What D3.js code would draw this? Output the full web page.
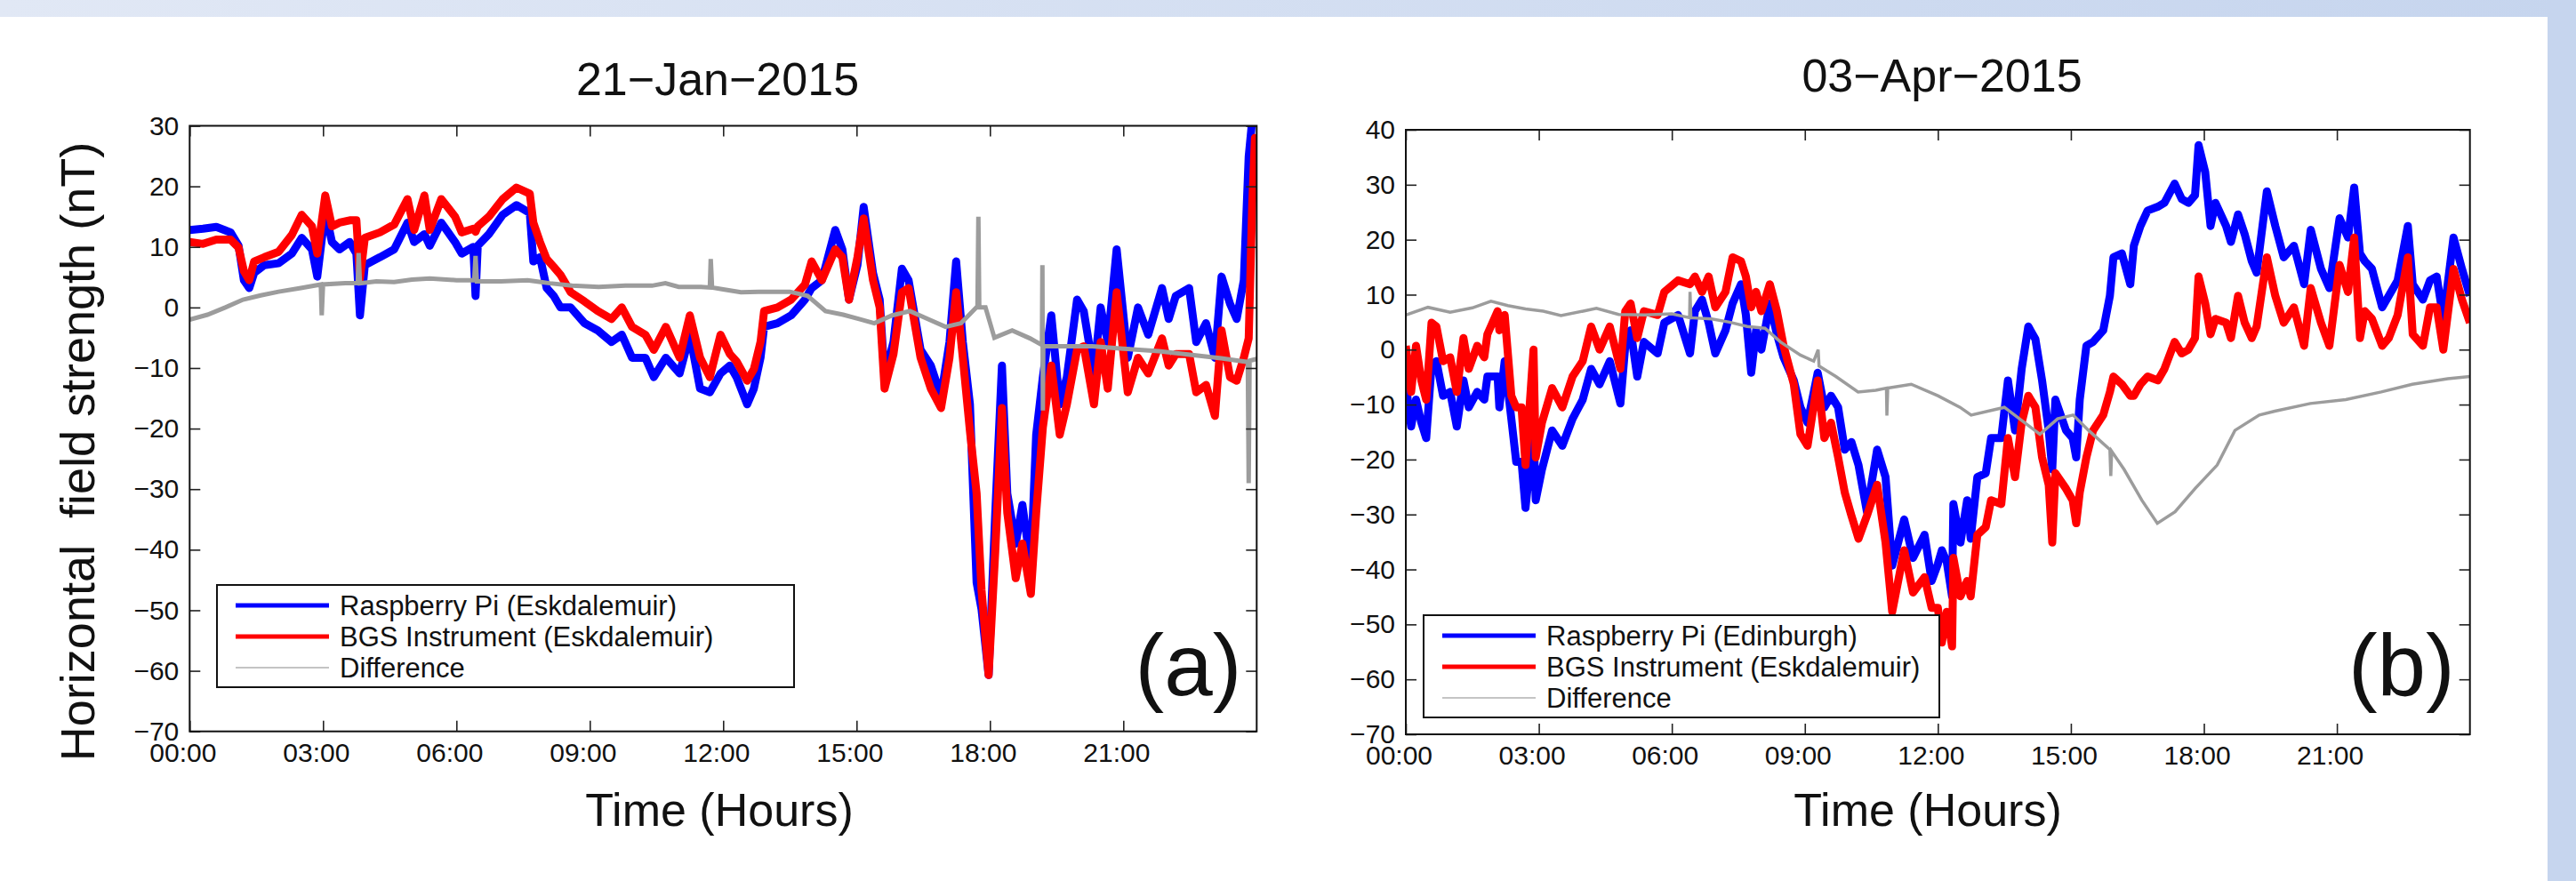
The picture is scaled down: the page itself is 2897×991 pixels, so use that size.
<!DOCTYPE html>
<html>
<head>
<meta charset="utf-8">
<script src="https://cdn.jsdelivr.net/npm/d3@7"></script>
<style>
  body { margin: 0; background: #fff; }
  svg text { font-family: "Liberation Sans", Arial, Helvetica, sans-serif; fill: #111; }
</style>
</head>
<body>
<div class="figure"></div>
<script>
// panel (a) 21-Jan-2015, hours of day
const hoursA = [0, 0.3, 0.6, 0.92, 1.1, 1.22, 1.34, 1.45, 1.68, 2.0, 2.3, 2.52, 2.75, 2.87, 3.05, 3.2, 3.37, 3.6, 3.75, 3.83,
  3.94, 4.28, 4.6, 4.9, 5.05, 5.28, 5.4, 5.66, 5.97, 6.12, 6.38, 6.43, 6.48, 6.73, 7.04, 7.35, 7.65, 7.73, 7.88, 8.03,
  8.19, 8.34, 8.57, 8.88, 9.18, 9.49, 9.72, 9.95, 10.25, 10.44, 10.71, 11.02, 11.25, 11.48, 11.7, 11.94, 12.15, 12.3, 12.54, 12.69,
  12.84, 12.92, 13.22, 13.53, 13.84, 13.99, 14.22, 14.52, 14.68, 14.83, 15.02, 15.16, 15.37, 15.52, 15.63, 15.83, 16.02, 16.17, 16.44, 16.67,
  16.9, 17.09, 17.24, 17.39, 17.55, 17.7, 17.81, 17.97, 18.12, 18.27, 18.39, 18.58, 18.73, 18.92, 19.04, 19.19, 19.38, 19.57, 19.73, 19.96,
  20.11, 20.34, 20.49, 20.65, 20.85, 21.1, 21.33, 21.56, 21.87, 22.02, 22.18, 22.48, 22.64, 22.86, 23.06, 23.21, 23.4, 23.55, 23.71, 23.82,
  23.9, 23.96, 24];
const rpiA = [12.8, 13, 13.3, 12.4, 10.2, 4.5, 3.2, 5.7, 7, 7.3, 8.9, 11.5, 9.6, 5.1, 16, 10.8, 9.6, 10.8, 8.9, -1.3,
  7, 8.3, 9.6, 14, 10.8, 12.1, 10.2, 14, 10.8, 8.9, 10, 1.9, 10.2, 12.1, 15.3, 16.9, 15.6, 7.6, 8.3, 3.2,
  1.9, 0, 0, -2.6, -3.8, -5.7, -4.5, -8.3, -8.3, -11.5, -8.3, -10.9, -4.5, -13.4, -14, -10.9, -9.6, -11.5, -16, -13.4,
  -8.3, -3.2, -2.6, -1.3, 1.3, 3.2, 4.5, 12.8, 9.6, 1.3, 7, 16.6, 5.7, 1.3, -11.5, -5.7, 6.4, 4.5, -7, -9.6,
  -14.7, -5.7, 7.6, -5.7, -16, -45.4, -49.8, -60.7, -33.9, -9.6, -30.7, -39, -32.6, -42.8, -21, -11.5, -1.3, -16, -11.5, 1.3,
  -0.6, -10.9, 0, -5.7, 9.6, -8.3, 0, -4.5, 3.2, -1.9, 1.9, 3.2, -5.7, -2.6, -8.3, 5.1, 0.6, -1.9, 4.5, 24.9,
  31, 32, 31];
const bgsA = [10.8, 10.5, 11.2, 11.2, 9.9, 6, 4.5, 7.6, 8.3, 9.2, 12, 15.3, 13.4, 8.9, 18.5, 13.4, 14, 14.4, 14.4, 4.8,
  11.5, 12.4, 13.7, 17.9, 12.8, 18.5, 12.8, 17.9, 15, 12.4, 13, 12.5, 13.4, 15, 17.9, 19.8, 18.8, 14, 10.8, 8,
  6.7, 5.4, 2.5, 1, -0.6, -1.9, 0, -3.2, -4.5, -7, -3.2, -8.3, -1.3, -8.3, -11.5, -4.5, -7.7, -8.9, -12.1, -10.2,
  -5.7, -0.6, 0, 1.3, 3.8, 7.6, 4.5, 9.6, 8.3, 1.3, 8.3, 14.7, 4.5, 0, -13.4, -7.7, 2.5, 3.2, -8.3, -13.4,
  -16.6, -8.3, 2.5, -8.3, -20.4, -30.7, -46.6, -60.7, -40.2, -16.6, -33.9, -44.7, -39, -47.3, -33.9, -19.8, -9.6, -21, -16, -7,
  -6.4, -16, -5.7, -13.4, 2.5, -14, -8.3, -10.9, -5.1, -9.6, -7.7, -7.7, -14, -12.8, -17.9, -3.8, -11.5, -12.1, -8.3, -5.1,
  17.2, 28, 24];
const diffHoursA = [0, 0.4, 0.8, 1.2, 1.6, 2.0, 2.5, 2.95, 2.97, 3.0, 3.5, 3.78, 3.8, 3.83, 4.2, 4.6, 5.0, 5.4, 6.0, 6.4,
  6.43, 6.46, 7.0, 7.6, 7.9, 8.1, 8.6, 9.2, 9.8, 10.4, 10.7, 11.0, 11.5, 11.7, 11.72, 11.75, 12, 12.4, 12.8, 13.5,
  13.9, 14.3, 14.7, 15.06, 15.4, 15.8, 16.2, 16.6, 17.0, 17.35, 17.72, 17.74, 17.76, 17.9, 18.1, 18.5, 18.9, 19.17, 19.18, 19.19,
  19.2, 19.6, 20.3, 21.0, 21.8, 22.5, 23.2, 23.8, 23.82, 23.84, 24];
const diffA = [-2, -1.2, 0, 1.3, 2, 2.6, 3.2, 3.8, -1.3, 3.8, 4, 4, 9, 4, 4.3, 4.2, 4.6, 4.8, 4.5, 4.5,
  8.5, 4.3, 4.3, 4.5, 4.2, 4, 3.6, 3.4, 3.6, 3.6, 4, 3.4, 3.4, 3.3, 8, 3.3, 3, 2.5, 2.6, 2.6,
  1.9, -0.6, -1.2, -1.9, -2.6, -1.3, -0.6, -1.9, -3.2, -2.6, 0.2, 15, 0, 0, -5, -3.8, -5.1, -6.2, 7, -17,
  -6.4, -6.4, -6.4, -6.8, -7.2, -7.8, -8.4, -9, -29, -8.8, -8.5];

// panel (b) 03-Apr-2015
const hoursB = [0, 0.12, 0.23, 0.35, 0.46, 0.58, 0.69, 0.84, 1.0, 1.15, 1.3, 1.42, 1.61, 1.77, 1.84, 2.07, 2.11, 2.23, 2.38, 2.49,
  2.61, 2.7, 2.88, 2.93, 3.07, 3.3, 3.53, 3.76, 3.99, 4.18, 4.37, 4.6, 4.84, 4.95, 5.07, 5.22, 5.37, 5.68, 5.83, 6.14,
  6.41, 6.52, 6.68, 6.83, 6.98, 7.21, 7.37, 7.56, 7.67, 7.79, 7.9, 8.02, 8.21, 8.37, 8.52, 8.75, 8.9, 9.06, 9.29, 9.44,
  9.59, 9.75, 9.9, 10.05, 10.21, 10.4, 10.63, 10.82, 10.97, 11.24, 11.44, 11.7, 11.86, 12.0, 12.09, 12.2, 12.32, 12.35, 12.51, 12.66,
  12.74, 12.89, 13.08, 13.2, 13.43, 13.58, 13.74, 13.89, 14.04, 14.2, 14.35, 14.5, 14.58, 14.65, 14.89, 15.04, 15.12, 15.2, 15.35, 15.5,
  15.73, 15.88, 15.96, 16.15, 16.34, 16.42, 16.57, 16.73, 16.96, 17.11, 17.34, 17.5, 17.65, 17.8, 17.88, 18.03, 18.15, 18.26, 18.5, 18.61,
  18.77, 18.92, 19.08, 19.19, 19.42, 19.61, 19.8, 20.03, 20.26, 20.41, 20.64, 20.83, 21.06, 21.25, 21.39, 21.52, 21.63, 21.79, 22.02, 22.17,
  22.37, 22.6, 22.71, 22.94, 23.1, 23.25, 23.4, 23.63, 23.82, 24];
const rpiB = [-6.3, -14, -9.1, -13.3, -16.1, -2.8, -2.1, -8.4, -7.7, -14, -5.6, -10.5, -7.7, -9.1, -4.9, -4.9, -10.5, -2.1, -12.6, -20.4,
  -20.4, -28.8, -14.7, -27.4, -21.8, -14.7, -17.5, -12.6, -9.1, -3.5, -6.3, -2.1, -9.8, 0.7, 3.5, -4.9, 1.4, -0.7, 4.9, 6.3,
  -0.7, 7, 9.1, 4.9, -0.7, 3.5, 8.4, 11.9, 6.3, -4.2, 3.5, 0, 8.4, 2.8, -1.4, -5.6, -10.5, -13.3, -4.2, -10.5,
  -8.4, -10.5, -18.2, -16.8, -21, -29.5, -18.2, -23.2, -39.3, -30.9, -37.9, -33.7, -42.1, -39, -36.5, -38.6, -44.9, -28.1, -35.1, -27.4,
  -34.4, -23.2, -22.5, -16.1, -16.1, -5.6, -14.7, -3.5, 4.2, 1.9, -5.6, -14.7, -21.8, -9.1, -14.7, -16.1, -19.6, -9.1, 0.7, 1.4,
  3.5, 9.8, 16.8, 17.5, 11.9, 18.9, 22.5, 25.3, 26, 26.7, 30.2, 27.4, 26.7, 28.1, 37.2, 32.3, 22.5, 26.7, 22.5, 19.6,
  24.6, 21, 16.1, 14, 28.8, 22.5, 16.8, 18.9, 11.9, 21.8, 14.7, 11.2, 23.9, 20.4, 29.5, 17.5, 16.1, 14.7, 7.7, 9.8,
  12.6, 22.5, 11.9, 9.1, 12.6, 13.3, 5.6, 20.4, 14.7, 9.8];
const bgsB = [0.7, -7.7, 0.7, -5.6, -9.1, 4.9, 4.2, -2.1, -1.4, -7.7, 2.1, -3.5, 0.7, -1.4, 2.8, 7, 3.5, 6.3, -8.4, -10.5,
  -10.5, -21, 0, -19.6, -13.3, -7, -10.5, -4.9, -2.1, 4.2, 0, 4.2, -3.5, 7, 8.4, 2.1, 7, 6.3, 10.5, 12.6,
  11.9, 13.3, 10.5, 13.3, 7.7, 10.5, 16.8, 16.1, 13.3, 7.7, 10.5, 7, 11.9, 7, 0.7, -6.3, -15.4, -17.5, -5.6, -16.1,
  -13.3, -19.6, -26, -30.2, -34.4, -30.2, -24.6, -35.1, -47.7, -36.5, -44.2, -41.4, -47, -47, -53.3, -47.7, -54, -37.9, -44.9, -42.1,
  -44.9, -33.7, -32.3, -27.4, -28.1, -16.1, -23.2, -13.3, -8.4, -10.5, -19.6, -24.6, -35.1, -22.5, -25.3, -27.4, -31.6, -26, -19.6, -14.7,
  -11.9, -7.7, -4.9, -6.3, -8.4, -8.4, -6.3, -4.9, -5.6, -3.5, 1.4, -0.7, 0, 2.1, 13.3, 8.4, 2.8, 5.6, 4.9, 2.1,
  9.8, 4.9, 2.1, 4.2, 16.8, 9.8, 4.9, 7.7, 0.7, 11.2, 4.9, 0.7, 15.4, 10.5, 20.4, 2.1, 7, 5.6, 0.7, 2.1,
  6.3, 16.8, 2.8, 0.7, 7.7, 7.7, 0, 14.7, 9.1, 4.9];
const diffHoursB = [0, 0.5, 1.0, 1.5, 1.92, 2.3, 2.7, 3.1, 3.5, 4.0, 4.3, 4.8, 5.4, 6.0, 6.4, 6.41, 6.43, 6.9, 7.3, 7.7,
  8.1, 8.45, 8.9, 9.2, 9.3, 9.32, 9.7, 10.2, 10.6, 10.84, 10.85, 10.87, 11.4, 12.0, 12.5, 12.75, 13.5, 14.3, 14.7, 15.05,
  15.4, 15.88, 15.9, 15.92, 16.2, 16.6, 16.95, 17.35, 17.8, 18.3, 18.7, 19.25, 19.6, 20.4, 21.2, 22.0, 22.7, 23.5, 24];
const diffB = [6.3, 7.7, 6.8, 7.6, 8.8, 8, 7.4, 7, 6.2, 7, 7.5, 6.4, 6.3, 6.5, 5.8, 10.5, 5.8, 5.6, 5, 4.2,
  3.9, 1.4, -1, -2.1, 0, -3, -4.9, -7.7, -7.4, -7, -12, -7, -6.3, -8.4, -10.5, -11.9, -10.5, -15.4, -12.6, -11.9,
  -14.7, -18.2, -23, -18.5, -21.8, -27.4, -31.6, -29.5, -25.3, -21, -14.7, -11.9, -11.2, -9.8, -9.1, -7.7, -6.3, -5.3, -4.9];

const hourTicks = [0, 3, 6, 9, 12, 15, 18, 21];
const yTicksA = [30, 20, 10, 0, -10, -20, -30, -40, -50, -60, -70];
const yTicksB = [40, 30, 20, 10, 0, -10, -20, -30, -40, -50, -60, -70];
const legendA = ['Raspberry Pi (Eskdalemuir)', 'BGS Instrument (Eskdalemuir)', 'Difference'];
const legendB = ['Raspberry Pi (Edinburgh)', 'BGS Instrument (Eskdalemuir)', 'Difference'];

const W = 2897, H = 991;
const blue = '#0000ff', red = '#ff0000', grey = '#9c9c9c';

const svg = d3.select('.figure')
  .append('svg')
    .attr('width', W)
    .attr('height', H);

//page decoration
const defs = svg.append('defs');
const grad = defs.append('linearGradient').attr('id', 'band');
grad.append('stop').attr('offset', '0%').attr('stop-color', '#e1e8f5');
grad.append('stop').attr('offset', '100%').attr('stop-color', '#c6d5ee');
svg.append('rect').attr('x', 0).attr('y', 0).attr('width', W).attr('height', 19).attr('fill', 'url(#band)');
svg.append('rect').attr('x', 2865).attr('y', 0).attr('width', W - 2865).attr('height', H).attr('fill', '#c6d5ee');

const fmtHour = d => d3.format('02d')(d) + ':00';
const fmtY = d => (d < 0 ? '\u2212' + Math.abs(d) : String(d));

function drawPanel (p) {
  const x = d3.scaleLinear().domain([0, 24]).range([p.left, p.right]);
  const y = d3.scaleLinear().domain(p.yDomain).range([p.bottom, p.top]);

  defs.append('clipPath').attr('id', 'clip-' + p.id)
    .append('rect')
      .attr('x', p.left).attr('y', p.top)
      .attr('width', p.right - p.left).attr('height', p.bottom - p.top);

  //title
  svg.append('text')
    .attr('x', p.titleX)
    .attr('y', p.titleY)
    .attr('text-anchor', 'middle')
    .style('font-size', '52px')
    .text(p.title);

  //series
  const g = svg.append('g').attr('clip-path', 'url(#clip-' + p.id + ')');
  const line = d3.line().x(d => x(d[0])).y(d => y(d[1]));
  const zip = (t, v) => t.map((h, i) => [h, v[i]]);

  g.append('path')
    .datum(zip(p.hours, p.rpi))
    .attr('d', line)
    .attr('fill', 'none')
    .attr('stroke', blue)
    .attr('stroke-width', 9)
    .attr('stroke-linejoin', 'round');

  g.append('path')
    .datum(zip(p.hours, p.bgs))
    .attr('d', line)
    .attr('fill', 'none')
    .attr('stroke', red)
    .attr('stroke-width', 9)
    .attr('stroke-linejoin', 'round');

  g.append('path')
    .datum(zip(p.diffHours, p.diff))
    .attr('d', line)
    .attr('fill', 'none')
    .attr('stroke', grey)
    .attr('stroke-width', p.diffWidth);

  //axes, ticks pointing inwards
  const axB = svg.append('g')
    .attr('transform', `translate(0,${p.bottom})`)
    .call(d3.axisBottom(x).tickValues(hourTicks).tickFormat(fmtHour).tickSizeInner(-12).tickSizeOuter(0).tickPadding(13));
  axB.selectAll('text').attr('dx', -8);

  svg.append('g')
    .attr('transform', `translate(0,${p.top})`)
    .call(d3.axisTop(x).tickValues(hourTicks).tickFormat('').tickSizeInner(-12).tickSizeOuter(0));

  svg.append('g')
    .attr('transform', `translate(${p.left},0)`)
    .call(d3.axisLeft(y).tickValues(p.yTicks).tickFormat(fmtY).tickSizeInner(-12).tickSizeOuter(0).tickPadding(12));

  svg.append('g')
    .attr('transform', `translate(${p.right},0)`)
    .call(d3.axisRight(y).tickValues(p.yTicks).tickFormat('').tickSizeInner(-12).tickSizeOuter(0));

  svg.selectAll('.domain').remove();
  svg.selectAll('.tick line').attr('stroke', '#222').attr('stroke-width', 1.6);
  svg.selectAll('.tick text').style('font-size', '30px').attr('fill', '#111');

  svg.append('rect')
    .attr('x', p.left).attr('y', p.top)
    .attr('width', p.right - p.left).attr('height', p.bottom - p.top)
    .attr('fill', 'none')
    .attr('stroke', '#111')
    .attr('stroke-width', 2);

  //x label
  svg.append('text')
    .attr('x', p.xLabelX)
    .attr('y', 929)
    .attr('text-anchor', 'middle')
    .style('font-size', '52px')
    .text('Time (Hours)');

  //legend
  const lg = svg.append('g').attr('transform', `translate(${p.legX},${p.legY})`);
  lg.append('rect')
    .attr('width', p.legW).attr('height', 115)
    .attr('fill', '#fff')
    .attr('stroke', '#111')
    .attr('stroke-width', 2);
  const legColors = [blue, red, '#c4c4c4'];
  const legWidths = [5, 5, 2];
  p.legend.forEach((label, i) => {
    const cy = 23 + i * 35;
    lg.append('line')
      .attr('x1', 21).attr('x2', 126)
      .attr('y1', cy).attr('y2', cy)
      .attr('stroke', legColors[i])
      .attr('stroke-width', legWidths[i]);
    lg.append('text')
      .attr('x', 138)
      .attr('y', cy + 11)
      .style('font-size', '31px')
      .text(label);
  });

  //panel letter
  svg.append('text')
    .attr('x', p.right - 17)
    .attr('y', 782)
    .attr('text-anchor', 'end')
    .style('font-size', '98px')
    .text(p.letter);
}

drawPanel({
  id: 'a', left: 213.3, right: 1413.3, top: 141.5, bottom: 822.7,
  yDomain: [-70, 30], yTicks: yTicksA,
  title: '21\u2212Jan\u22122015', titleX: 807, titleY: 107, xLabelX: 809,
  hours: hoursA, rpi: rpiA, bgs: bgsA, diffHours: diffHoursA, diff: diffA, diffWidth: 5,
  legend: legendA, legX: 244, legY: 658, legW: 649, letter: '(a)'
});

drawPanel({
  id: 'b', left: 1581, right: 2777.7, top: 146, bottom: 826,
  yDomain: [-70, 40], yTicks: yTicksB,
  title: '03\u2212Apr\u22122015', titleX: 2184, titleY: 103, xLabelX: 2168,
  hours: hoursB, rpi: rpiB, bgs: bgsB, diffHours: diffHoursB, diff: diffB, diffWidth: 3.5,
  legend: legendB, legX: 1601, legY: 692, legW: 580, letter: '(b)'
});

//y label on the left panel
svg.append('text')
  .attr('transform', 'translate(106,508) rotate(-90)')
  .attr('text-anchor', 'middle')
  .style('font-size', '54px')
  .style('white-space', 'pre')
  .text('Horizontal  field strength (nT)');
</script>
</body>
</html>
